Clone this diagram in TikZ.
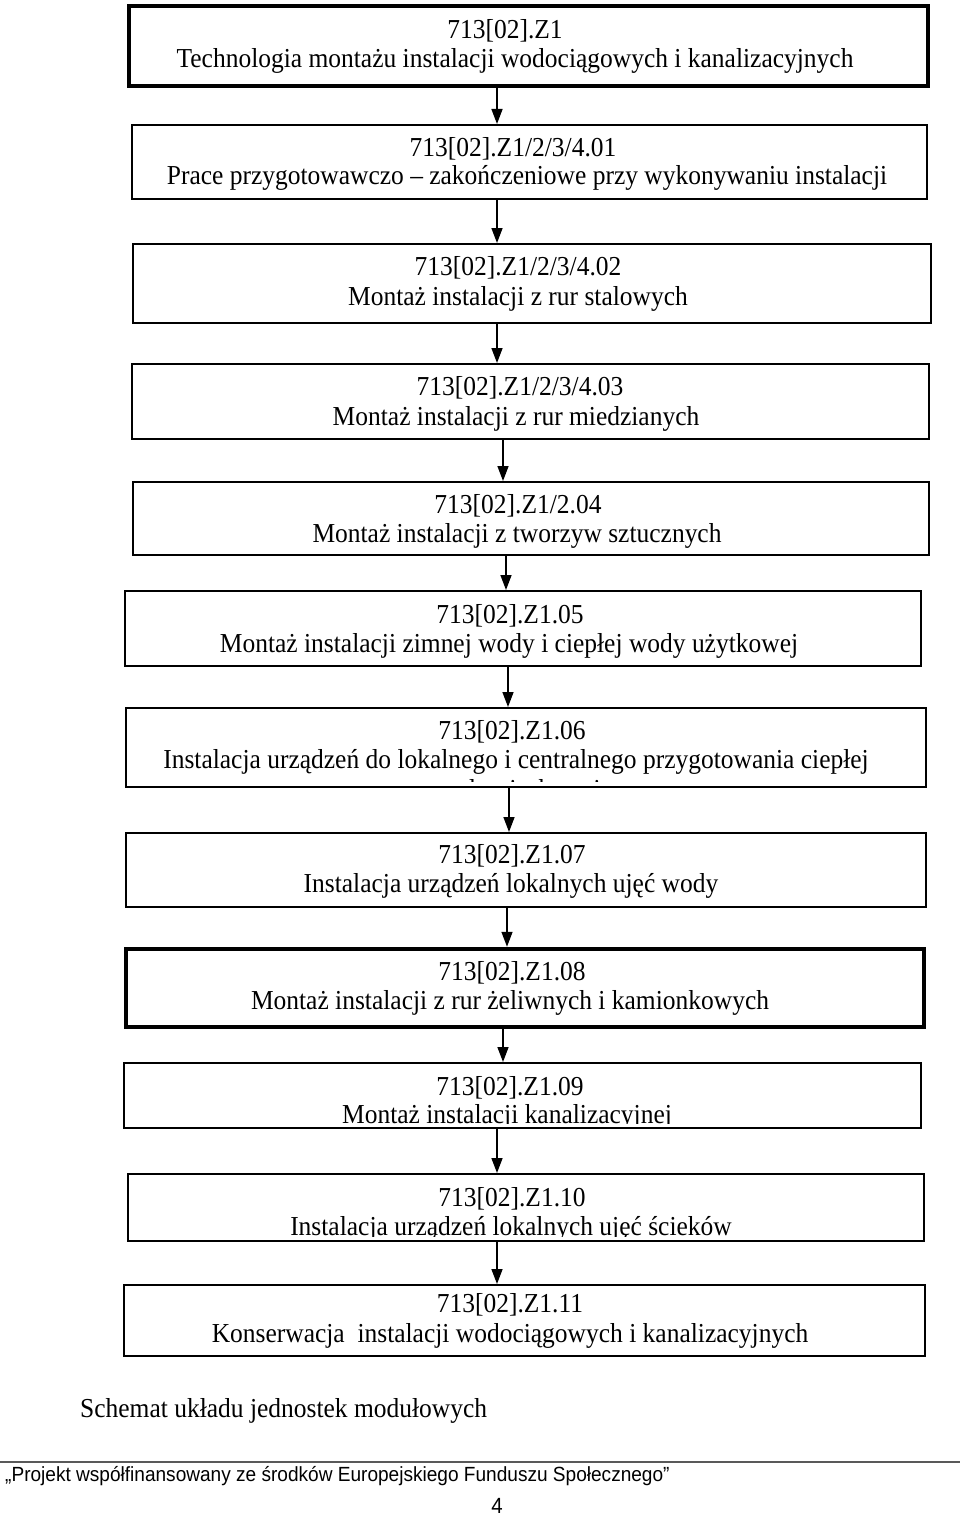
\documentclass[tikz,border=0pt]{standalone}
\usepackage{fontspec}
\setmainfont{Liberation Serif}[FakeStretch=0.93]
\newfontfamily\arialfont{Liberation Sans}[FakeStretch=0.93]
\usetikzlibrary{arrows.meta}
\begin{document}
\begin{tikzpicture}[x=1pt,y=-1pt,
  box/.style={draw, line width=2pt, inner sep=0pt},
  thickbox/.style={box, line width=4.5pt},
  txt/.style={anchor=base, inner sep=0pt, font=\fontsize{27.4}{31}\selectfont},
  arr/.style={line width=1.5pt, -{Triangle[width=11pt,length=15pt]}},
  foot/.style={inner sep=0pt, font=\arialfont\fontsize{20.5}{23}\selectfont}]
\useasboundingbox (0,0) rectangle (960,1517);
% boxes
\node[thickbox, minimum width=799pt, minimum height=80pt] (b1) at (528.5,46) {};
\node[box, minimum width=795pt, minimum height=74pt] (b2) at (529.5,162) {};
\node[box, minimum width=798pt, minimum height=79pt] (b3) at (532,283.5) {};
\node[box, minimum width=797pt, minimum height=75pt] (b4) at (530.5,401.5) {};
\node[box, minimum width=796pt, minimum height=73pt] (b5) at (531,518.5) {};
\node[box, minimum width=796pt, minimum height=75pt] (b6) at (523,628.5) {};
\node[box, minimum width=800pt, minimum height=79pt] (b7) at (526,747.5) {};
\node[box, minimum width=800pt, minimum height=74pt] (b8) at (526,870) {};
\node[thickbox, minimum width=798pt, minimum height=78pt] (b9) at (525,988) {};
\node[box, minimum width=797pt, minimum height=65pt] (b10) at (522.5,1095.5) {};
\node[box, minimum width=796pt, minimum height=67pt] (b11) at (526,1207.5) {};
\node[box, minimum width=801pt, minimum height=71pt] (b12) at (524.5,1320.5) {};
% texts
\node[txt] (c1) at (505,39) {713[02].Z1};
\node[txt] (t1) at (515,68) {Technologia montażu instalacji wodociągowych i kanalizacyjnych};
\node[txt] (c2) at (513,157) {713[02].Z1/2/3/4.01};
\node[txt] (t2) at (527,185) {Prace przygotowawczo – zakończeniowe przy wykonywaniu instalacji};
\node[txt] (c3) at (518,275) {713[02].Z1/2/3/4.02};
\node[txt] (t3) at (518,305) {Montaż instalacji z rur stalowych};
\node[txt] (c4) at (520,395) {713[02].Z1/2/3/4.03};
\node[txt] (t4) at (516,425) {Montaż instalacji z rur miedzianych};
\node[txt] (c5) at (518,513) {713[02].Z1/2.04};
\node[txt] (t5) at (517,542) {Montaż instalacji z tworzyw sztucznych};
\node[txt] (c6) at (510,623) {713[02].Z1.05};
\node[txt] (t6) at (509,652) {Montaż instalacji zimnej wody i ciepłej wody użytkowej};
\node[txt] (c7) at (512,739) {713[02].Z1.06};
\node[txt] (t7) at (516,768) {Instalacja urządzeń do lokalnego i centralnego przygotowania ciepłej};
\begin{scope}
\clip (126,772) rectangle (926,781);
\node[txt] (u7) at (516,798) {wody użytkowej};
\end{scope}
\node[txt] (c8) at (512,863) {713[02].Z1.07};
\node[txt] (t8) at (511,892) {Instalacja urządzeń lokalnych ujęć wody};
\node[txt] (c9) at (512,980) {713[02].Z1.08};
\node[txt] (t9) at (510,1009) {Montaż instalacji z rur żeliwnych i kamionkowych};
\node[txt] (c10) at (510,1095) {713[02].Z1.09};
\begin{scope}
\clip (126,1100) rectangle (920,1123.5);
\node[txt] (t10) at (507,1123) {Montaż instalacji kanalizacyjnej};
\end{scope}
\node[txt] (c11) at (512,1206) {713[02].Z1.10};
\begin{scope}
\clip (130,1212) rectangle (922,1236);
\node[txt] (t11) at (511,1235) {Instalacja urządzeń lokalnych ujęć ścieków};
\end{scope}
\node[txt] (c12) at (510,1312) {713[02].Z1.11};
\begin{scope}
\clip (126,1318) rectangle (922,1347);
\node[txt] (t12) at (510,1342) {Konserwacja\ \ instalacji wodociągowych i kanalizacyjnych};
\end{scope}
% arrows
\coordinate (x1) at (497,0);
\coordinate (x2) at (497,0);
\coordinate (x3) at (497,0);
\coordinate (x4) at (503,0);
\coordinate (x5) at (506,0);
\coordinate (x6) at (508,0);
\coordinate (x7) at (509,0);
\coordinate (x8) at (507,0);
\coordinate (x9) at (503,0);
\coordinate (x10) at (497,0);
\coordinate (x11) at (497,0);
\draw[arr] (b1.south -| x1) -- (b2.north -| x1);
\draw[arr] (b2.south -| x2) -- (b3.north -| x2);
\draw[arr] (b3.south -| x3) -- (b4.north -| x3);
\draw[arr] (b4.south -| x4) -- (b5.north -| x4);
\draw[arr] (b5.south -| x5) -- (b6.north -| x5);
\draw[arr] (b6.south -| x6) -- (b7.north -| x6);
\draw[arr] (b7.south -| x7) -- (b8.north -| x7);
\draw[arr] (b8.south -| x8) -- (b9.north -| x8);
\draw[arr] (b9.south -| x9) -- (b10.north -| x9);
\draw[arr] (b10.south -| x10) -- (b11.north -| x10);
\draw[arr] (b11.south -| x11) -- (b12.north -| x11);
% caption and footer
\node[txt, anchor=base west] (cap) at (80,1417) {Schemat układu jednostek modułowych};
\draw[line width=2pt, black!65] (0,1462) -- (960,1462);
\node[foot, anchor=base west] (ft) at (5,1481) {„Projekt współfinansowany ze środków Europejskiego Funduszu Społecznego”};
\node[foot, anchor=base, font=\arialfont\fontsize{22}{25}\selectfont] (pg) at (497,1513) {4};
\end{tikzpicture}
\end{document}
